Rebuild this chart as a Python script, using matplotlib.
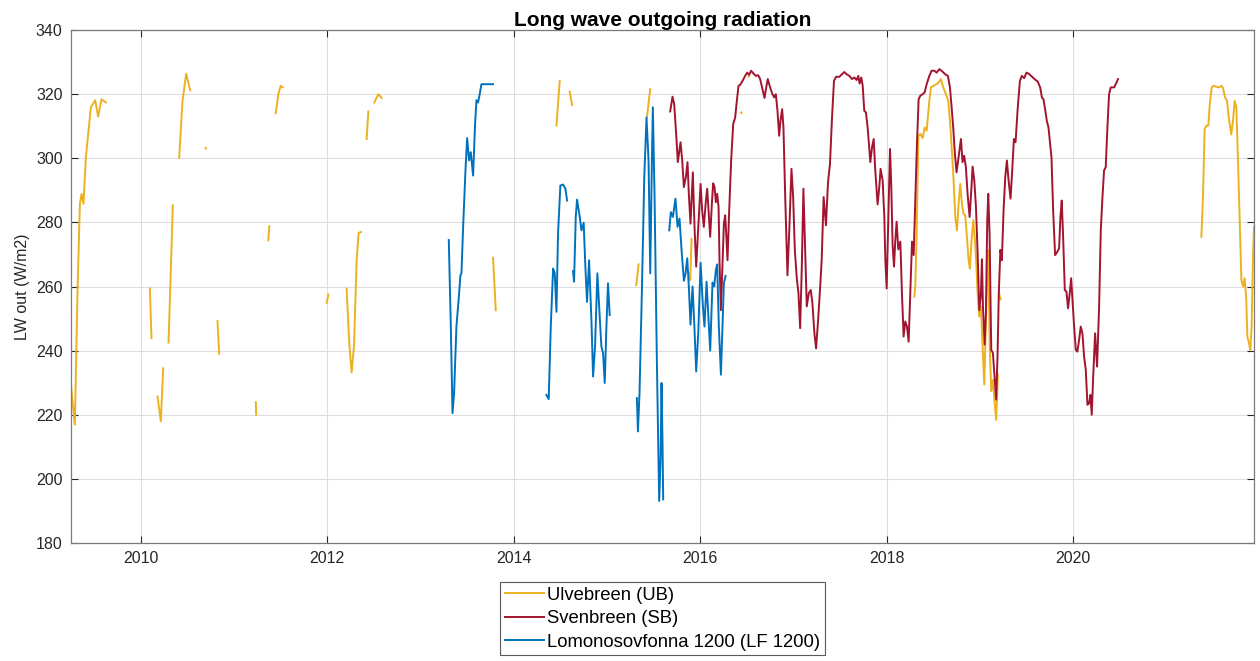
import numpy as np
import matplotlib.pyplot as plt

nan = np.nan

# Ulvebreen (UB), decimal year / LW out, gaps as nan
ub_year = [2009.25, 2009.292, 2009.32, 2009.346, 2009.364, 2009.385, 2009.41, 2009.464, 2009.51, 2009.542, 2009.578, 2009.625, nan,
           2010.097, 2010.114, nan,
           2010.179, 2010.214, 2010.24, nan,
           2010.297, 2010.343, nan,
           2010.411, 2010.447, 2010.486, 2010.529, nan,
           2010.695, 2010.699, nan,
           2010.822, 2010.84, nan,
           2011.233, 2011.237, nan,
           2011.367, 2011.378, nan,
           2011.446, 2011.475, 2011.5, 2011.521, nan,
           2011.993, 2012.011, nan,
           2012.207, 2012.236, 2012.261, 2012.286, 2012.315, 2012.336, 2012.361, nan,
           2012.422, 2012.44, nan,
           2012.504, 2012.547, 2012.583, nan,
           2013.778, 2013.807, nan,
           2014.458, 2014.493, nan,
           2014.6, 2014.626, nan,
           2015.314, 2015.339, nan,
           2015.428, 2015.464, nan,
           2015.882, 2015.893, 2015.907, nan,
           2016.44, 2016.445, nan,
           2016.518, 2016.522, nan,
           2018.297, 2018.307, 2018.322, 2018.34, 2018.361, 2018.386, 2018.407, 2018.429, 2018.458, 2018.475,
           2018.504, 2018.536, 2018.565, 2018.582, 2018.607, 2018.636, 2018.661, 2018.679, 2018.7, 2018.718,
           2018.736, 2018.754, 2018.772, 2018.79, 2018.807, 2018.825, 2018.843, 2018.861, 2018.879, 2018.893,
           2018.911, 2018.929, 2018.947, 2018.965, 2018.979, 2018.994, 2019.011, 2019.029, 2019.047, 2019.058,
           2019.072, 2019.083, 2019.093, 2019.107, 2019.122, 2019.14, 2019.16, 2019.175, 2019.193, nan,
           2019.205, 2019.222, nan,
           2021.376, 2021.394, 2021.411, 2021.43, 2021.451, 2021.466, 2021.487, 2021.508, 2021.537, 2021.565,
           2021.59, 2021.608, 2021.63, 2021.651, 2021.672, 2021.697, 2021.715, 2021.733, 2021.751, 2021.769,
           2021.787, 2021.805, 2021.823, 2021.84, 2021.858, 2021.869, 2021.887, 2021.901, 2021.915, 2021.929, 2021.94]
ub_lw = [229.3, 216.9, 257.8, 285.8, 288.9, 285.8, 300.3, 315.9, 318.1, 313.0, 318.4, 317.4, nan,
         259.4, 243.9, nan,
         225.7, 218.0, 234.5, nan,
         242.5, 285.3, nan,
         300.1, 317.9, 326.4, 321.2, nan,
         303.2, 303.0, nan,
         249.2, 239.0, nan,
         223.9, 220.0, nan,
         274.4, 278.8, nan,
         314.0, 320.0, 322.6, 322.1, nan,
         254.9, 257.5, nan,
         259.4, 242.3, 233.2, 241.3, 268.2, 276.7, 277.0, nan,
         306.0, 314.6, nan,
         317.4, 320.0, 318.8, nan,
         269.0, 252.6, nan,
         310.2, 324.1, nan,
         320.8, 316.6, nan,
         260.4, 266.9, nan,
         312.7, 321.6, nan,
         264.1, 262.0, 274.9, nan,
         314.3, 314.1, nan,
         325.6, 325.4, nan,
         256.8, 260.0, 276.5, 307.0, 307.6, 306.3, 309.6, 308.6, 317.9, 322.1,
         322.6, 323.1, 323.9, 324.7, 322.1, 320.0, 317.9, 311.7, 302.4, 293.1,
         281.7, 277.5, 285.8, 292.0, 285.8, 282.7, 282.2, 275.5, 268.2, 265.6,
         274.5, 280.7, 274.5, 265.1, 255.8, 250.6, 253.8, 241.3, 229.4, 241.3,
         258.9, 271.4, 263.1, 240.2, 227.3, 230.9, 223.1, 218.4, 232.5, nan,
         258.0, 256.0, nan,
         275.5, 288.9, 309.1, 310.2, 310.2, 316.9, 322.1, 322.6, 322.3, 322.1,
         322.6, 321.9, 319.0, 317.9, 312.2, 307.4, 311.7, 317.9, 315.9, 299.3,
         280.7, 262.0, 260.0, 262.6, 255.8, 244.4, 242.3, 240.2, 247.5, 268.2, 278.6]

# Svenbreen (SB)
sb_year = [2015.678, 2015.703, 2015.721, 2015.742, 2015.76, 2015.789, 2015.807, 2015.825, 2015.846, 2015.864,
           2015.878, 2015.896, 2015.921, 2015.939, 2015.957, 2015.979, 2016.004, 2016.021, 2016.039, 2016.061,
           2016.075, 2016.093, 2016.107, 2016.125, 2016.139, 2016.154, 2016.168, 2016.182, 2016.197, 2016.207,
           2016.222, 2016.236, 2016.254, 2016.268, 2016.279, 2016.293, 2016.311, 2016.332, 2016.354, 2016.375,
           2016.393, 2016.411, 2016.429, 2016.454, 2016.482, 2016.504, 2016.525, 2016.546, 2016.572, 2016.597,
           2016.622, 2016.643, 2016.668, 2016.69, 2016.708, 2016.725, 2016.75, 2016.775, 2016.793, 2016.811,
           2016.829, 2016.847, 2016.861, 2016.879, 2016.893, 2016.911, 2016.936, 2016.957, 2016.979, 2016.997,
           2017.015, 2017.036, 2017.054, 2017.072, 2017.09, 2017.107, 2017.125, 2017.143, 2017.165, 2017.186,
           2017.204, 2017.225, 2017.243, 2017.265, 2017.285, 2017.303, 2017.324, 2017.349, 2017.371, 2017.392,
           2017.414, 2017.435, 2017.457, 2017.492, 2017.521, 2017.546, 2017.571, 2017.6, 2017.628, 2017.653,
           2017.678, 2017.696, 2017.71, 2017.728, 2017.743, 2017.76, 2017.778, 2017.796, 2017.825, 2017.843,
           2017.861, 2017.878, 2017.903, 2017.921, 2017.935, 2017.957, 2017.975, 2017.986, 2018.0, 2018.014,
           2018.036, 2018.05, 2018.064, 2018.079, 2018.093, 2018.107, 2018.125, 2018.147, 2018.164, 2018.182,
           2018.2, 2018.218, 2018.236, 2018.254, 2018.272, 2018.29, 2018.307, 2018.325, 2018.343, 2018.361,
           2018.386, 2018.407, 2018.429, 2018.458, 2018.482, 2018.511, 2018.536, 2018.565, 2018.6, 2018.628,
           2018.657, 2018.679, 2018.697, 2018.714, 2018.732, 2018.75, 2018.771, 2018.797, 2018.814, 2018.832,
           2018.85, 2018.868, 2018.89, 2018.908, 2018.922, 2018.94, 2018.958, 2018.976, 2018.994, 2019.011,
           2019.022, 2019.033, 2019.051, 2019.065, 2019.079, 2019.09, 2019.104, 2019.122, 2019.14, 2019.16,
           2019.175, 2019.19, 2019.203, 2019.22, 2019.236, 2019.254, 2019.272, 2019.29, 2019.308, 2019.329,
           2019.347, 2019.365, 2019.383, 2019.404, 2019.429, 2019.45, 2019.475, 2019.5, 2019.522, 2019.55,
           2019.586, 2019.621, 2019.647, 2019.665, 2019.682, 2019.7, 2019.718, 2019.736, 2019.768, 2019.786,
           2019.807, 2019.832, 2019.85, 2019.864, 2019.878, 2019.893, 2019.911, 2019.929, 2019.946, 2019.964,
           2019.979, 2019.993, 2020.011, 2020.029, 2020.046, 2020.064, 2020.082, 2020.1, 2020.118, 2020.136,
           2020.154, 2020.172, 2020.186, 2020.2, 2020.214, 2020.236, 2020.257, 2020.279, 2020.297, 2020.315,
           2020.332, 2020.35, 2020.368, 2020.386, 2020.404, 2020.44, 2020.465, 2020.482]
sb_lw = [314.6, 319.2, 316.9, 307.6, 298.8, 305.0, 299.3, 291.0, 294.1, 298.8,
         288.9, 279.6, 295.6, 278.6, 266.2, 278.1, 292.0, 283.7, 278.6, 286.8,
         290.5, 282.2, 275.5, 285.8, 292.2, 291.0, 286.3, 288.9, 284.8, 268.2,
         252.6, 264.1, 279.6, 282.2, 276.5, 268.2, 283.7, 299.3, 310.7, 312.7,
         317.9, 322.6, 322.9, 324.1, 325.7, 326.7, 326.0, 327.3, 326.4, 325.7,
         325.9, 324.7, 321.6, 318.8, 322.1, 324.7, 322.1, 320.0, 319.0, 320.0,
         314.8, 307.0, 311.7, 315.3, 309.6, 288.9, 263.5, 278.6, 296.7, 287.9,
         271.4, 262.6, 257.9, 247.0, 266.2, 290.5, 272.4, 253.8, 257.9, 258.9,
         254.7, 245.4, 240.7, 249.6, 258.9, 268.2, 287.9, 279.1, 292.5, 298.2,
         312.7, 324.1, 325.4, 325.4, 326.2, 326.9, 326.2, 325.7, 324.7, 325.2,
         324.4, 325.7, 323.3, 325.2, 322.6, 314.8, 314.3, 309.6, 298.8, 303.4,
         306.0, 296.2, 285.6, 291.0, 296.7, 293.1, 281.7, 268.2, 259.4, 276.5,
         302.9, 291.0, 272.9, 266.2, 274.5, 280.2, 271.6, 274.0, 257.9, 244.4,
         249.1, 247.5, 242.8, 257.9, 274.0, 269.8, 286.8, 304.5, 318.4, 319.5,
         320.0, 320.5, 323.1, 325.7, 327.3, 327.3, 326.7, 327.8, 327.0, 326.2,
         325.7, 322.1, 315.9, 309.6, 301.4, 295.6, 300.3, 306.0, 298.8, 300.8,
         297.2, 288.9, 281.7, 290.0, 297.4, 293.1, 284.8, 270.3, 252.6, 257.4,
         268.5, 253.8, 241.9, 251.7, 280.7, 288.9, 276.5, 240.2, 239.2, 230.9,
         224.7, 239.2, 257.9, 271.4, 268.2, 283.7, 294.1, 299.3, 293.1, 287.4,
         296.2, 306.0, 305.0, 314.8, 324.1, 325.7, 325.0, 326.7, 326.4, 325.7,
         324.7, 323.9, 322.1, 319.0, 318.4, 315.3, 311.7, 309.6, 300.3, 283.7,
         269.8, 270.9, 271.9, 281.7, 286.8, 275.5, 258.9, 258.4, 253.2, 257.9,
         262.6, 255.8, 247.5, 240.2, 239.7, 243.3, 247.5, 245.4, 238.1, 234.0,
         223.1, 223.6, 226.2, 220.0, 230.9, 245.4, 235.0, 253.7, 277.5, 287.9,
         296.2, 297.2, 309.6, 320.0, 322.1, 322.1, 323.6, 324.7]

# Lomonosovfonna 1200 (LF 1200)
lf_year = [2013.303, 2013.325, 2013.343, 2013.36, 2013.385, 2013.414, 2013.428, 2013.439, 2013.457, 2013.482,
           2013.5, 2013.521, 2013.539, 2013.564, 2013.585, 2013.6, 2013.617, 2013.635, 2013.653, 2013.778, nan,
           2014.35, 2014.375, 2014.397, 2014.422, 2014.44, 2014.458, 2014.475, 2014.5, 2014.529, 2014.554, 2014.572, nan,
           2014.636, 2014.647, 2014.665, 2014.679, 2014.708, 2014.726, 2014.75, 2014.768, 2014.786, 2014.808,
           2014.833, 2014.851, 2014.872, 2014.897, 2014.922, 2014.94, 2014.958, 2014.976, 2014.994, 2015.011, 2015.029, nan,
           2015.321, 2015.332, 2015.349, 2015.374, 2015.4, 2015.424, 2015.446, 2015.464, 2015.482, 2015.492,
           2015.51, 2015.535, 2015.56, 2015.575, 2015.585, 2015.596, 2015.603, nan,
           2015.668, 2015.685, 2015.707, 2015.735, 2015.757, 2015.778, 2015.8, 2015.825, 2015.843, 2015.861,
           2015.878, 2015.896, 2015.918, 2015.936, 2015.957, 2015.979, 2016.004, 2016.029, 2016.046, 2016.068,
           2016.086, 2016.107, 2016.132, 2016.15, 2016.168, 2016.182, 2016.2, 2016.222, 2016.239, 2016.254, 2016.272]
lf_lw = [274.5, 247.5, 220.5, 226.8, 247.5, 257.9, 263.5, 264.1, 278.6, 296.2,
         306.3, 299.3, 301.9, 294.6, 310.7, 318.1, 317.4, 320.0, 323.1, 323.1, nan,
         226.2, 224.9, 247.5, 265.6, 264.1, 252.1, 276.5, 291.5, 291.8, 290.5, 286.8, nan,
         264.8, 261.5, 281.7, 287.1, 281.7, 277.5, 279.9, 266.2, 255.2, 268.2,
         249.6, 231.9, 241.3, 264.1, 250.6, 241.3, 239.2, 229.9, 247.5, 261.0, 251.1, nan,
         225.2, 214.8, 226.7, 257.9, 294.1, 312.7, 299.3, 264.1, 299.3, 315.9,
         288.9, 237.1, 193.1, 206.1, 229.9, 211.2, 193.6, nan,
         277.5, 283.2, 281.7, 287.4, 278.6, 281.2, 271.4, 261.8, 264.1, 268.8,
         260.0, 248.1, 260.0, 248.6, 233.5, 245.4, 267.4, 253.8, 247.5, 261.5,
         251.7, 240.0, 261.2, 260.0, 265.1, 266.9, 247.5, 232.5, 247.5, 261.0, 263.3]

plt.rcParams['font.family'] = ['Liberation Sans', 'DejaVu Sans']

fig = plt.figure(figsize=(12.6, 6.61), dpi=100)
ax = fig.add_axes([0.0563, 0.1785, 0.9389, 0.7761])

ax.plot(ub_year, ub_lw, color='#EDB120', lw=1.4, label='Ulvebreen (UB)')
ax.plot(sb_year, sb_lw, color='#A2142F', lw=1.4, label='Svenbreen (SB)')
ax.plot(lf_year, lf_lw, color='#0072BD', lw=1.4, label='Lomonosovfonna 1200 (LF 1200)')

ax.set_xlim(2009.25, 2021.94)
ax.set_ylim(180, 340)
ax.set_xticks(np.arange(2010, 2021, 2))
ax.set_yticks(np.arange(180, 341, 20))
ax.grid(True, color='#dedede', lw=0.8)
ax.set_axisbelow(True)
ax.tick_params(direction='in', top=True, right=True, length=5, width=0.8,
               colors='#262626', labelsize=11.5, pad=6)
for s in ax.spines.values():
    s.set_color('#7a7a7a')
    s.set_linewidth(0.9)

ax.set_title('Long wave outgoing radiation', fontsize=15, fontweight='bold', pad=3)
ax.set_ylabel('LW out (W/m2)', fontsize=11.5, color='#262626')

leg = fig.legend(loc='upper center', bbox_to_anchor=(0.5258, 0.1195), fontsize=13.3,
                 handlelength=2.15, handletextpad=0.15, labelspacing=0.35,
                 borderpad=0.25, borderaxespad=0, fancybox=False, framealpha=1,
                 edgecolor='#5a5a5a')
leg.get_frame().set_linewidth(0.8)

fig.savefig('out.png', dpi=100)
